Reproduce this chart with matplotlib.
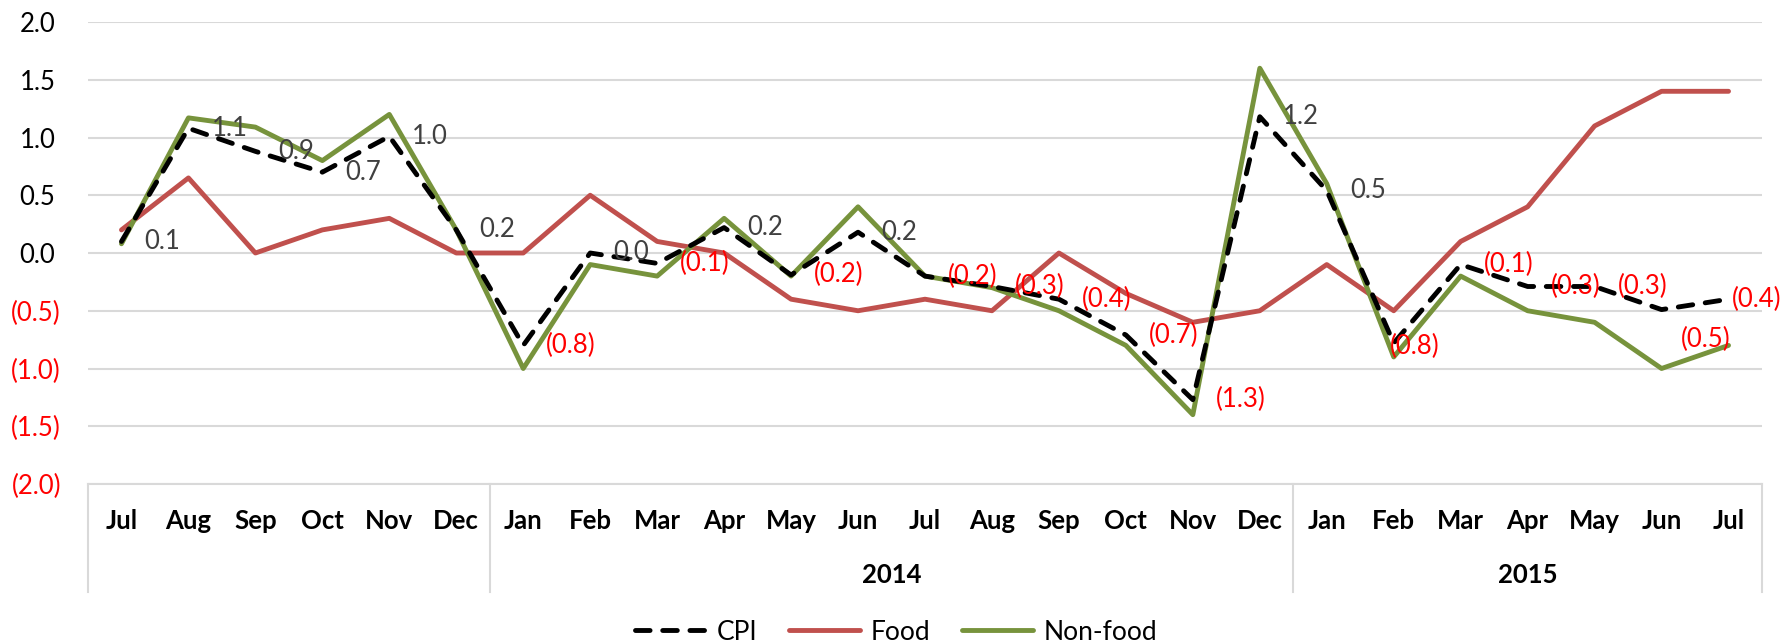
import matplotlib
matplotlib.use("Agg")
import matplotlib.pyplot as plt
import matplotlib.transforms as mtransforms

plt.rcParams['font.family'] = ['Lato', 'DejaVu Sans']

months = ["Jul", "Aug", "Sep", "Oct", "Nov", "Dec",
          "Jan", "Feb", "Mar", "Apr", "May", "Jun", "Jul", "Aug", "Sep", "Oct", "Nov", "Dec",
          "Jan", "Feb", "Mar", "Apr", "May", "Jun", "Jul"]
years = ["2014", "2015"]
year_spans = [(6, 17), (18, 24)]

cpi = [0.1, 1.08, 0.88, 0.70, 1.01, 0.2,
       -0.80, 0.0, -0.09, 0.22, -0.19, 0.18, -0.20, -0.29, -0.40, -0.71, -1.27, 1.18,
       0.54, -0.78, -0.10, -0.29, -0.29, -0.49, -0.40]
food = [0.2, 0.65, 0.0, 0.2, 0.3, 0.0,
        0.0, 0.5, 0.1, 0.0, -0.4, -0.5, -0.4, -0.5, 0.0, -0.35, -0.6, -0.5,
        -0.1, -0.5, 0.1, 0.4, 1.1, 1.4, 1.4]
nonfood = [0.08, 1.17, 1.09, 0.80, 1.20, 0.2,
           -1.0, -0.1, -0.2, 0.3, -0.2, 0.4, -0.2, -0.3, -0.5, -0.8, -1.4, 1.6,
           0.6, -0.9, -0.2, -0.5, -0.6, -1.0, -0.8]
yticks = [2.0, 1.5, 1.0, 0.5, 0.0, -0.5, -1.0, -1.5, -2.0]

RED = "#FF0000"
GRID = "#D9D9D9"
FS = 18.5

fig = plt.figure(figsize=(17.85, 6.42), dpi=100)
ax = fig.add_axes([88/1785, 1-484/642, (1762-88)/1785, (484-22)/642])

x = list(range(len(months)))
ax.plot(x, food, color="#C0504D", lw=3.5, solid_capstyle='round', label="Food", zorder=3)
ax.plot(x, nonfood, color="#77933C", lw=3.5, solid_capstyle='round', label="Non-food", zorder=3)
ax.plot(x, cpi, color="black", lw=3.5, dashes=(3.0, 2.6), dash_capstyle='round',
        label="CPI", zorder=4)

ax.set_xlim(-0.5, len(months) - 0.5)
ax.set_ylim(-2.0, 2.0)
ax.set_yticks(yticks)

def fmt(v):
    return f"({abs(v):.1f})" if v < -1e-9 else f"{abs(v):.1f}"

ax.set_yticklabels([fmt(v) for v in yticks])
ax.tick_params(axis='y', length=0, pad=19.5, labelsize=FS)
for v, lab in zip(yticks, ax.get_yticklabels()):
    if v < 0:
        lab.set_color(RED)
    else:
        lab.set_color("black")
        lab.set_transform(lab.get_transform() +
                          mtransforms.ScaledTranslation(-5.5/100, 0, fig.dpi_scale_trans))

ax.set_xticks(x)
ax.set_xticklabels(months, fontweight='bold', fontsize=FS)
ax.tick_params(axis='x', length=0, pad=26.5)
for lab in ax.get_xticklabels():
    lab.set_va('center')

ax.grid(axis='y', color=GRID, lw=1.5, zorder=0)
ax.set_axisbelow(True)
for s in ['left', 'right', 'top']:
    ax.spines[s].set_visible(False)
ax.spines['bottom'].set_color(GRID)
ax.spines['bottom'].set_linewidth(1.5)

# category group box
bt = mtransforms.blended_transform_factory(ax.transData, ax.transAxes)
ybot = -(592-484)/462
for xv in [-0.5, 5.5, 17.5, len(months) - 0.5]:
    ax.plot([xv, xv], [0, ybot], color=GRID, lw=1.5, transform=bt, clip_on=False)
for yr, (a, b) in zip(years, year_spans):
    ax.text((a + b) / 2, -(575-484)/462, yr, transform=bt, ha='center', va='center',
            fontweight='bold', fontsize=FS)

# data labels for CPI
special = {19: (-4, -3), 23: (19, -30), 24: (3, 0)}
for i, v in enumerate(cpi):
    dx, dy = special.get(i, (23, 0))
    ax.annotate(fmt(v), (i, v), xytext=(dx * 0.72, dy * 0.72), textcoords='offset points',
                ha='left', va='center', fontsize=FS,
                color=RED if v < -1e-9 else "#404040", zorder=5, annotation_clip=False)

h, l = ax.get_legend_handles_labels()
order = [2, 0, 1]
fig.legend([h[k] for k in order], [l[k] for k in order], loc='center',
           bbox_to_anchor=(0.502, 1 - 632/642), ncol=3, frameon=False, fontsize=FS + 0.5,
           handlelength=2.7, handletextpad=0.4, columnspacing=1.2)

fig.savefig("out.png", dpi=100)
